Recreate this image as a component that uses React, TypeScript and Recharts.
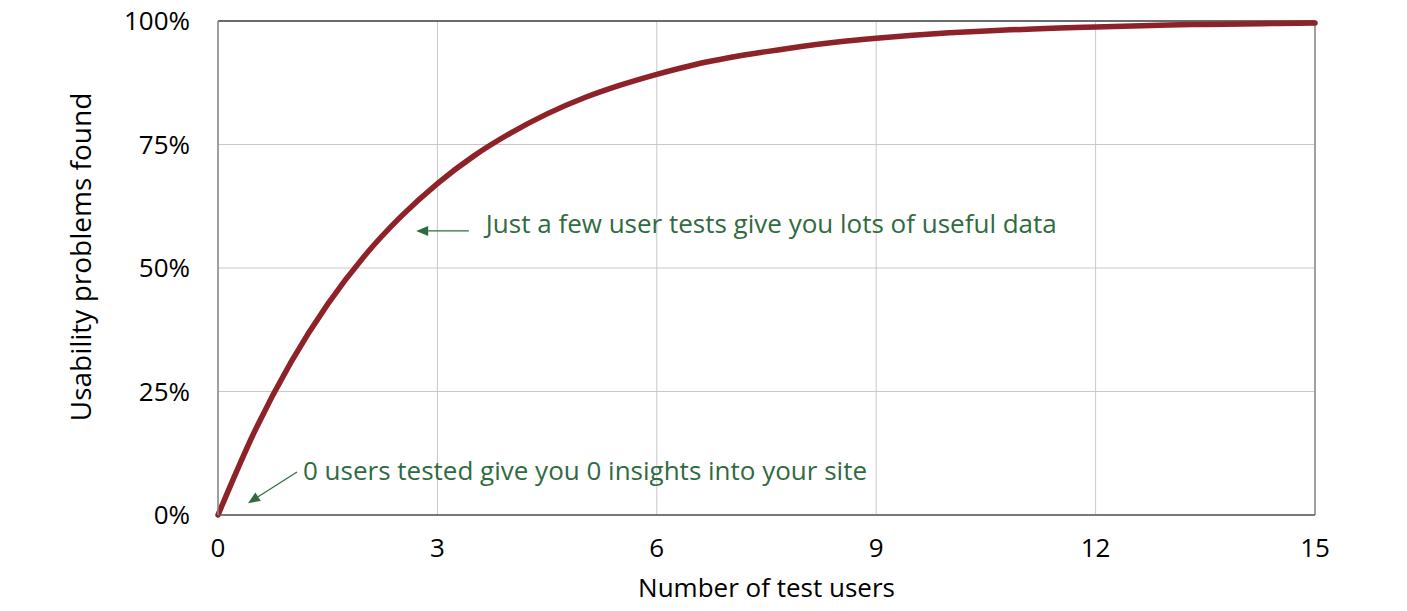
import { LineChart, Line, XAxis, YAxis, CartesianGrid, ReferenceLine } from "recharts";

// users tested vs share of usability problems found
const users = [
  0, 0.5, 1, 1.5, 2, 2.5, 3, 3.5, 4, 4.5, 5, 5.5, 6, 6.5, 7, 7.5, 8, 8.5, 9, 9.5, 10, 10.5, 11, 11.5,
  12, 12.5, 13, 13.5, 14, 14.5, 15,
];
const found = [
  0, 16.9, 31, 42.7, 52.4, 60.4, 67.1, 72.7, 77.3, 81.2, 84.4, 87.0, 89.2, 91.1, 92.6, 93.8, 94.9,
  95.8, 96.5, 97.1, 97.6, 98.0, 98.3, 98.6, 98.8, 99.0, 99.2, 99.3, 99.4, 99.5, 99.6,
];

const xTicks = [0, 3, 6, 9, 12, 15];
const yTicks = [0, 25, 50, 75, 100];

const data = users.map((u, i) => ({ users: u, found: found[i] }));

const FONT = "'Open Sans', sans-serif";
const GREEN = "#2F6B3F";

const arrow = (text: string, dx: number, dy: number) => (props: any) => {
  const { x1, y1, x2, y2 } = props;
  const ang = Math.atan2(y2 - y1, x2 - x1);
  const len = 12;
  const w = 5;
  const bx = x2 - len * Math.cos(ang);
  const by = y2 - len * Math.sin(ang);
  const px = -Math.sin(ang) * w;
  const py = Math.cos(ang) * w;
  return (
    <g>
      <line x1={x1} y1={y1} x2={bx} y2={by} stroke={GREEN} strokeWidth={1.2} />
      <polygon points={`${x2},${y2} ${bx + px},${by + py} ${bx - px},${by - py}`} fill={GREEN} />
      <text x={x1 + dx} y={y1 + dy} fill={GREEN} fontSize={26} fontFamily={FONT}>
        {text}
      </text>
    </g>
  );
};

const yLabel = (props: any) => {
  const vb = props.viewBox || {};
  const cx = (vb.x ?? 0) + 80;
  const cy = (vb.y ?? 0) + (vb.height ?? 0) / 2 - 11;
  return (
    <text
      x={cx}
      y={cy}
      transform={`rotate(-90 ${cx} ${cy})`}
      textAnchor="middle"
      dominantBaseline="central"
      fill="#000"
      fontSize={28}
      fontFamily={FONT}
    >
      Usability problems found
    </text>
  );
};

export default function App() {
  return (
    <div style={{ marginLeft: -8, marginTop: -8 }}>
      <LineChart
        width={1407}
        height={611}
        data={data}
        margin={{ top: 21, right: 92, left: 0, bottom: 0 }}
      >
        <CartesianGrid stroke="#c8c8c8" strokeWidth={1} />
        <XAxis
          dataKey="users"
          type="number"
          domain={[0, 15]}
          ticks={xTicks}
          height={96}
          tickLine={false}
          axisLine={{ stroke: "#555", strokeWidth: 1.5 }}
          tick={{ fill: "#000", fontSize: 26, fontFamily: FONT }}
          tickMargin={18}
          label={{
            value: "Number of test users",
            position: "insideBottom",
            offset: 14,
            fill: "#000",
            fontSize: 26,
            fontFamily: FONT,
          }}
        />
        <YAxis
          type="number"
          domain={[0, 100]}
          ticks={yTicks}
          width={218}
          tickLine={false}
          axisLine={{ stroke: "#888", strokeWidth: 1.5 }}
          tickFormatter={(v) => `${v}%`}
          tick={{ fill: "#000", fontSize: 26, fontFamily: FONT }}
          tickMargin={22}
          label={yLabel}
        />
        <ReferenceLine y={100} stroke="#444" strokeWidth={1.5} />
        <ReferenceLine x={15} stroke="#888" strokeWidth={1.5} />
        <ReferenceLine
          segment={[
            { x: 1.08, y: 8.7 },
            { x: 0.41, y: 2.4 },
          ]}
          shape={arrow("0 users tested give you 0 insights into your site", 6, 8)}
        />
        <ReferenceLine
          segment={[
            { x: 3.43, y: 57.5 },
            { x: 2.71, y: 57.5 },
          ]}
          shape={arrow("Just a few user tests give you lots of useful data", 17, 2)}
        />
        <Line
          type="monotone"
          dataKey="found"
          stroke="#8E2229"
          strokeWidth={5.5}
          strokeLinecap="round"
          dot={false}
          isAnimationActive={false}
        />
      </LineChart>
    </div>
  );
}
